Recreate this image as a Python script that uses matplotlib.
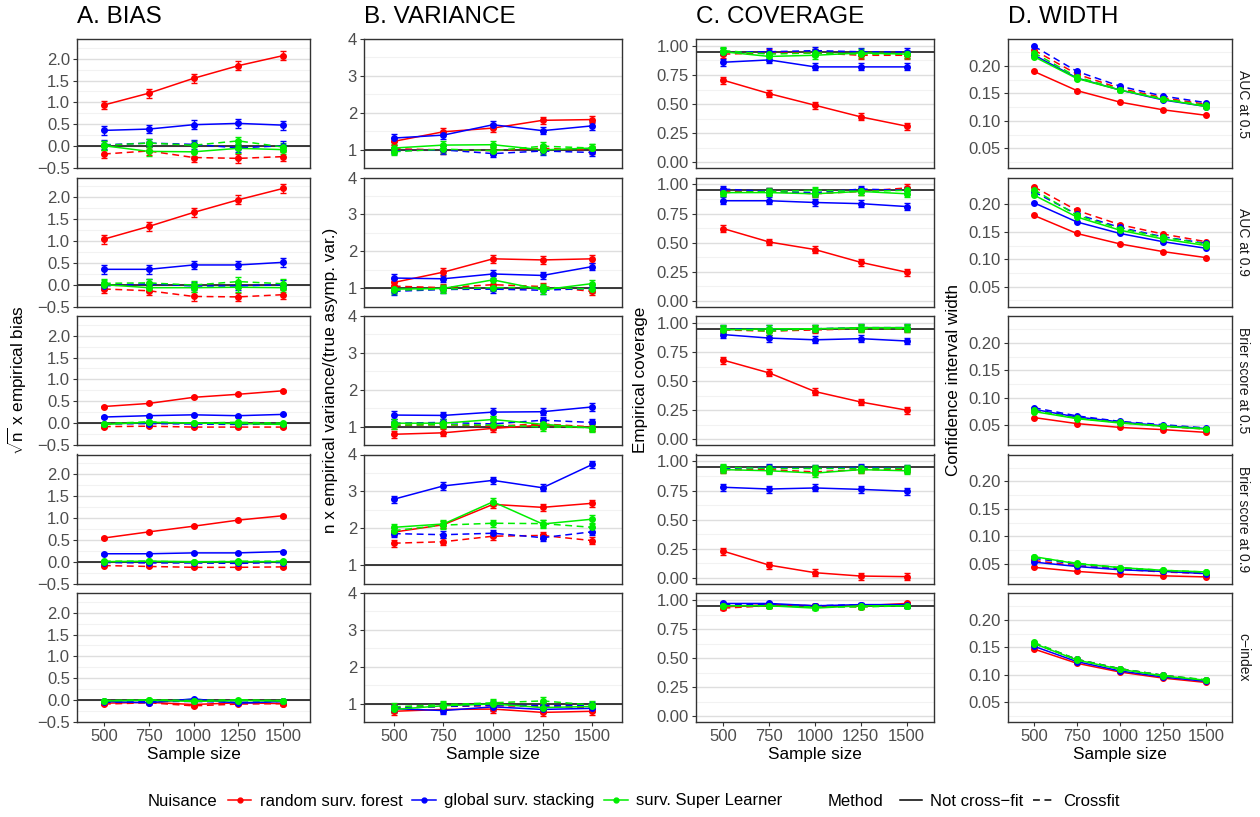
import matplotlib
matplotlib.use("Agg")
from matplotlib import pyplot as plt
from matplotlib.lines import Line2D
from matplotlib.ticker import FuncFormatter, MultipleLocator
import numpy as np

plt.rcParams['font.family'] = ['Liberation Sans', 'DejaVu Sans']
plt.rcParams['mathtext.fontset'] = 'custom'
plt.rcParams['mathtext.rm'] = 'Liberation Sans'

sample_sizes = [500, 750, 1000, 1250, 1500]
row_labels = ["AUC at 0.5", "AUC at 0.9", "Brier score at 0.5", "Brier score at 0.9", "c\u2212index"]

# A. bias  (rf = random surv. forest, gs = global surv. stacking, sl = surv. Super Learner; _cf = crossfit)
bias_rf = [[0.94, 1.21, 1.55, 1.84, 2.07], [1.04, 1.33, 1.65, 1.94, 2.20], [0.38, 0.45, 0.59, 0.66, 0.74],
           [0.54, 0.68, 0.81, 0.95, 1.05], [-0.07, -0.05, -0.10, -0.06, -0.08]]
bias_rf_cf = [[-0.18, -0.11, -0.26, -0.28, -0.24], [-0.10, -0.14, -0.27, -0.28, -0.23], [-0.08, -0.07, -0.09, -0.09, -0.09],
              [-0.09, -0.11, -0.13, -0.13, -0.12], [-0.09, -0.06, -0.13, -0.09, -0.08]]
bias_gs = [[0.36, 0.39, 0.49, 0.52, 0.48], [0.35, 0.35, 0.45, 0.45, 0.51], [0.14, 0.17, 0.19, 0.17, 0.20],
           [0.18, 0.18, 0.20, 0.20, 0.23], [-0.03, -0.06, 0.03, -0.07, -0.03]]
bias_gs_cf = [[0.03, 0.07, 0.04, -0.04, 0.01], [-0.03, 0.02, -0.03, -0.03, 0.00], [-0.02, -0.01, -0.02, -0.03, -0.02],
              [-0.02, -0.03, -0.03, -0.04, -0.02], [-0.05, -0.03, -0.03, -0.05, -0.03]]
bias_sl = [[0.01, -0.12, -0.13, -0.05, -0.08], [0.00, -0.07, -0.07, -0.06, -0.07], [-0.03, 0.02, 0.00, -0.01, -0.03],
           [0.00, 0.01, 0.00, 0.00, 0.00], [-0.02, 0.00, -0.03, -0.01, -0.02]]
bias_sl_cf = [[0.02, 0.07, 0.02, 0.12, -0.02], [0.03, 0.04, -0.01, 0.07, 0.02], [-0.01, 0.03, 0.00, 0.02, 0.00],
              [0.01, 0.01, -0.01, 0.01, 0.01], [-0.01, 0.01, -0.01, 0.01, -0.01]]
bias_err = [0.1, 0.1, 0.02, 0.02, 0.02]

# B. variance ratio
var_rf = [[1.23, 1.49, 1.59, 1.80, 1.82], [1.16, 1.44, 1.80, 1.77, 1.80], [0.80, 0.84, 0.96, 1.05, 0.98],
          [1.90, 2.10, 2.65, 2.57, 2.68], [0.80, 0.85, 0.86, 0.77, 0.80]]
var_rf_cf = [[1.03, 1.00, 0.98, 1.04, 1.00], [1.06, 1.02, 1.10, 1.05, 0.92], [1.04, 1.06, 1.02, 1.08, 1.00],
             [1.60, 1.64, 1.79, 1.81, 1.67], [0.90, 0.93, 0.95, 0.93, 0.90]]
var_gs = [[1.32, 1.40, 1.68, 1.52, 1.65], [1.28, 1.26, 1.39, 1.35, 1.59], [1.32, 1.31, 1.40, 1.41, 1.54],
          [2.79, 3.15, 3.30, 3.10, 3.73], [0.87, 0.82, 0.92, 0.85, 0.88]]
var_gs_cf = [[0.98, 1.00, 0.90, 0.97, 0.93], [0.92, 0.97, 0.98, 0.95, 1.00], [1.10, 1.12, 1.08, 1.18, 1.12],
             [1.86, 1.83, 1.87, 1.75, 1.91], [0.88, 0.93, 0.97, 0.95, 0.95]]
var_sl = [[1.05, 1.13, 1.14, 1.00, 1.05], [0.98, 1.00, 1.23, 0.96, 1.13], [1.10, 1.10, 1.20, 1.07, 0.97],
          [2.03, 2.12, 2.72, 2.12, 2.25], [0.85, 0.95, 1.00, 0.90, 0.93]]
var_sl_cf = [[0.95, 1.02, 0.98, 1.10, 1.05], [0.95, 0.98, 1.02, 1.03, 0.98], [1.05, 1.06, 1.05, 1.00, 0.98],
             [1.94, 2.09, 2.14, 2.13, 2.03], [0.92, 0.98, 1.03, 1.08, 0.97]]
var_err = [0.1, 0.1, 0.1, 0.1, 0.1]

# C. coverage
cov_rf = [[0.705, 0.59, 0.49, 0.39, 0.31], [0.62, 0.505, 0.44, 0.33, 0.245], [0.68, 0.57, 0.41, 0.32, 0.25],
          [0.228, 0.108, 0.043, 0.014, 0.009], [0.94, 0.96, 0.95, 0.95, 0.97]]
cov_rf_cf = [[0.93, 0.94, 0.94, 0.92, 0.92], [0.94, 0.94, 0.92, 0.94, 0.97], [0.94, 0.93, 0.94, 0.95, 0.95],
             [0.93, 0.93, 0.91, 0.93, 0.93], [0.93, 0.95, 0.95, 0.94, 0.96]]
cov_gs = [[0.86, 0.88, 0.82, 0.82, 0.82], [0.86, 0.86, 0.845, 0.835, 0.81], [0.90, 0.87, 0.855, 0.865, 0.845],
          [0.778, 0.763, 0.772, 0.76, 0.744], [0.97, 0.97, 0.95, 0.96, 0.96]]
cov_gs_cf = [[0.95, 0.95, 0.96, 0.95, 0.95], [0.96, 0.94, 0.93, 0.96, 0.95], [0.95, 0.95, 0.95, 0.96, 0.96],
             [0.94, 0.95, 0.94, 0.95, 0.94], [0.96, 0.96, 0.95, 0.96, 0.95]]
cov_sl = [[0.95, 0.91, 0.92, 0.94, 0.93], [0.93, 0.93, 0.92, 0.94, 0.92], [0.94, 0.95, 0.95, 0.96, 0.96],
          [0.93, 0.92, 0.90, 0.93, 0.92], [0.95, 0.95, 0.93, 0.95, 0.95]]
cov_sl_cf = [[0.96, 0.93, 0.94, 0.93, 0.93], [0.93, 0.94, 0.95, 0.94, 0.95], [0.95, 0.93, 0.95, 0.95, 0.95],
             [0.95, 0.94, 0.94, 0.94, 0.94], [0.95, 0.95, 0.94, 0.94, 0.95]]
cov_err = [0.03, 0.03, 0.03, 0.03, 0.015]

# D. interval width
wid_rf = [[0.190, 0.155, 0.134, 0.120, 0.110], [0.180, 0.147, 0.128, 0.114, 0.103], [0.064, 0.053, 0.046, 0.042, 0.037],
          [0.0435, 0.036, 0.031, 0.028, 0.026], [0.147, 0.121, 0.105, 0.094, 0.086]]
wid_rf_cf = [[0.229, 0.185, 0.159, 0.142, 0.130], [0.232, 0.189, 0.163, 0.146, 0.132], [0.076, 0.063, 0.055, 0.048, 0.043],
             [0.056, 0.046, 0.040, 0.035, 0.032], [0.157, 0.128, 0.111, 0.099, 0.090]]
wid_gs = [[0.220, 0.178, 0.156, 0.138, 0.126], [0.203, 0.168, 0.147, 0.132, 0.120], [0.079, 0.065, 0.056, 0.049, 0.044],
          [0.053, 0.045, 0.039, 0.036, 0.032], [0.152, 0.124, 0.107, 0.096, 0.088]]
wid_gs_cf = [[0.236, 0.190, 0.163, 0.145, 0.133], [0.223, 0.182, 0.158, 0.141, 0.129], [0.082, 0.067, 0.057, 0.051, 0.045],
             [0.060, 0.049, 0.042, 0.037, 0.034], [0.158, 0.128, 0.111, 0.099, 0.090]]
wid_sl = [[0.217, 0.177, 0.156, 0.139, 0.126], [0.217, 0.177, 0.153, 0.137, 0.125], [0.075, 0.062, 0.054, 0.048, 0.043],
          [0.063, 0.050, 0.043, 0.038, 0.035], [0.157, 0.127, 0.110, 0.098, 0.090]]
wid_sl_cf = [[0.224, 0.180, 0.157, 0.140, 0.128], [0.227, 0.180, 0.156, 0.140, 0.128], [0.077, 0.063, 0.055, 0.049, 0.044],
             [0.062, 0.051, 0.043, 0.038, 0.035], [0.159, 0.128, 0.111, 0.099, 0.091]]

nuisance_names = ["random surv. forest", "global surv. stacking", "surv. Super Learner"]
colors = ["#FF0000", "#0000FF", "#00EE00"]
dash = (0, (4.5, 3))


def fmt_with(spec):
    return FuncFormatter(lambda v, pos: (spec % v).replace('-', '\u2212'))


panels = [
    dict(title="A. BIAS", ylabel=r"$\sqrt{\mathrm{n}}$ x empirical bias",
         series=[bias_rf, bias_gs, bias_sl], series_cf=[bias_rf_cf, bias_gs_cf, bias_sl_cf], err=bias_err,
         ylim=(-0.5, 2.45), major=0.5, minor=0.25, fmt='%.1f', ref=0.0, left=77, right=310, ylab_x=17),
    dict(title="B. VARIANCE", ylabel="n x empirical variance/(true asymp. var.)",
         series=[var_rf, var_gs, var_sl], series_cf=[var_rf_cf, var_gs_cf, var_sl_cf], err=var_err,
         ylim=(0.51, 4.0), major=1, minor=0.5, fmt='%d', ref=1.0, left=364, right=622, ylab_x=330),
    dict(title="C. COVERAGE", ylabel="Empirical coverage",
         series=[cov_rf, cov_gs, cov_sl], series_cf=[cov_rf_cf, cov_gs_cf, cov_sl_cf], err=cov_err,
         ylim=(-0.05, 1.06), major=0.25, minor=0.125, fmt='%.2f', ref=0.95, left=696, right=934, ylab_x=640),
    dict(title="D. WIDTH", ylabel="Confidence interval width",
         series=[wid_rf, wid_gs, wid_sl], series_cf=[wid_rf_cf, wid_gs_cf, wid_sl_cf], err=None,
         ylim=(0.014, 0.249), major=0.05, minor=0.025, fmt='%.2f', ref=None, left=1008, right=1232, ylab_x=953),
]

W, H = 1260, 817
fig = plt.figure(figsize=(W / 100, H / 100), dpi=100)
top0, step, ph = 39, 138.5, 129

for p in panels:
    for r in range(5):
        top = top0 + r * step
        ax = fig.add_axes([p['left'] / W, 1 - (top + ph) / H, (p['right'] - p['left']) / W, ph / H])
        ax.set_xlim(350, 1650)
        ax.set_ylim(*p['ylim'])
        ax.yaxis.set_major_locator(MultipleLocator(p['major']))
        ax.yaxis.set_minor_locator(MultipleLocator(p['minor']))
        ax.yaxis.set_major_formatter(fmt_with(p['fmt']))
        ax.grid(axis='y', which='major', color='#DEDEDE', lw=1.0)
        ax.grid(axis='y', which='minor', color='#F2F2F2', lw=0.8)
        ax.set_axisbelow(True)
        ax.set_xticks(sample_sizes)
        ax.tick_params(axis='both', which='major', length=3, width=0.8, color='#333333',
                       labelsize=12, labelcolor='#4D4D4D', pad=2)
        ax.tick_params(axis='y', which='minor', length=0)
        if r < 4:
            ax.tick_params(axis='x', labelbottom=False, length=0)
        else:
            ax.set_xlabel("Sample size", fontsize=12.3, labelpad=2)
        for s in ax.spines.values():
            s.set_color('#333333')
            s.set_linewidth(1.0)
        if p['ref'] is not None:
            ax.axhline(p['ref'], color='#1A1A1A', lw=1.2, zorder=1)
        for k in range(3):
            for data, ls in ((p['series'][k], '-'), (p['series_cf'][k], dash)):
                y = data[r]
                if p['err'] is None:
                    ax.plot(sample_sizes, y, color=colors[k], ls=ls, lw=1.1, marker='o', ms=4, zorder=3)
                else:
                    ax.errorbar(sample_sizes, y, yerr=p['err'][r], color=colors[k], ls=ls, lw=1.1,
                                marker='o', ms=4, capsize=2.2, elinewidth=1.0, capthick=1.0, zorder=3)
        if p['err'] is None:
            ax.text(1.05, 0.5, row_labels[r], transform=ax.transAxes, rotation=270,
                    va='center', ha='center', fontsize=10, color='#1A1A1A')
    fig.text(p['left'] / W, 1 - 17 / H, p['title'], fontsize=17.5, va='center', ha='left')
    fig.text(p['ylab_x'] / W, 1 - 380 / H, p['ylabel'], fontsize=12.3, rotation=90, va='center', ha='center')

# legend row
ly = 1 - 801 / H
fig.text(148 / W, ly, "Nuisance", fontsize=12, va='center', ha='left')
nh = [Line2D([], [], color=c, lw=1.1, marker='o', ms=3.5) for c in colors]
fig.legend(nh, nuisance_names, loc='center left', bbox_to_anchor=(228 / W, ly), ncol=3, frameon=False,
           fontsize=12, handlelength=1.4, handletextpad=0.5, columnspacing=0.6, borderpad=0, borderaxespad=0)
fig.text(828 / W, ly, "Method", fontsize=12, va='center', ha='left')
mh = [Line2D([], [], color='black', lw=1.1), Line2D([], [], color='black', lw=1.1, ls=dash)]
fig.legend(mh, ["Not cross\u2212fit", "Crossfit"], loc='center left', bbox_to_anchor=(900 / W, ly), ncol=2,
           frameon=False, fontsize=12, handlelength=1.3, handletextpad=0.5, columnspacing=0.6,
           borderpad=0, borderaxespad=0)

fig.savefig("out.png", dpi=100)
